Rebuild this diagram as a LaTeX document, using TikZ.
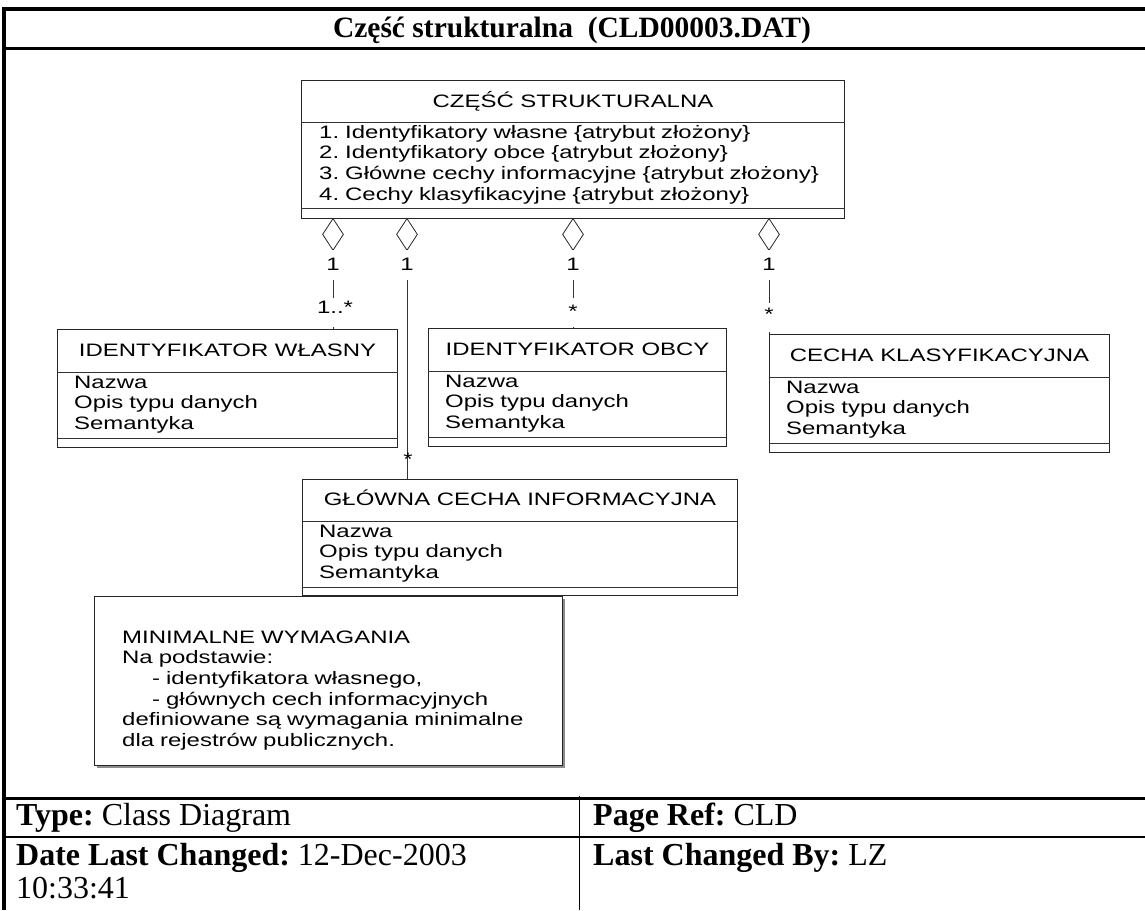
\documentclass[tikz,border=0pt]{standalone}
\usepackage{fontspec}
\setmainfont{Liberation Serif}
\newfontfamily\umlfont[FakeStretch=1.33]{Liberation Sans}
\usetikzlibrary{shapes.geometric,shadows}
\frenchspacing
\tikzset{>=latex}
\tikzset{
  uml/.style={font=\umlfont\fontsize{18pt}{20.7pt}\selectfont},
  klasa/.style={draw=black!85, line width=1pt, fill=white, anchor=north west, inner sep=0pt},
  romb/.style={diamond, draw=black!85, line width=0.8pt, fill=white, inner sep=0pt, minimum width=21pt, minimum height=32pt, anchor=north},
  linia/.style={draw=black!80, line width=0.8pt},
  krotn/.style={uml, fill=white, inner xsep=1pt, inner ysep=0pt, anchor=base},
  naglowek/.style={uml, anchor=base, inner sep=0pt},
  atrybuty/.style={uml, anchor=base west, inner sep=0pt, align=left, text width=520pt},
  stopka/.style={font=\fontsize{32pt}{33pt}\selectfont, anchor=base west, inner sep=0pt},
  ramka/.style={line width=4pt}
}

\begin{document}
\begin{tikzpicture}[x=1pt,y=-1pt]
  \useasboundingbox (0,0) rectangle (1145,910);
  % Frame
  \draw[ramka] (2,9) -- (1145,9);
  \draw[ramka] (4,9) -- (4,910);
  \draw[line width=3pt] (4,48) -- (1145,48);
  \node[font=\bfseries\fontsize{29.5pt}{34pt}\selectfont, anchor=base, inner sep=0pt] (tytul) at (572,37) {Część strukturalna~ (CLD00003.DAT)};

  % Classes
  \node[klasa, minimum width=543pt, minimum height=138pt] (cs) at (301,80) {};
  \node[naglowek] (cs-n) at ([yshift=-27pt]cs.north) {CZĘŚĆ STRUKTURALNA};
  \node[atrybuty] (cs-a) at ([xshift=18pt,yshift=-58pt]cs.north west) {1. Identyfikatory własne \{atrybut złożony\}\\2. Identyfikatory obce \{atrybut złożony\}\\3. Główne cechy informacyjne \{atrybut złożony\}\\4. Cechy klasyfikacyjne \{atrybut złożony\}};
  \draw[linia] ([yshift=-42pt]cs.north west) -- ([yshift=-42pt]cs.north east);
  \draw[linia] ([yshift=11pt]cs.south west) -- ([yshift=11pt]cs.south east);

  \node[klasa, minimum width=340pt, minimum height=118pt] (wl) at (57,329) {};
  \node[naglowek] (wl-n) at ([yshift=-27pt]wl.north) {IDENTYFIKATOR WŁASNY};
  \node[atrybuty] (wl-a) at ([xshift=17pt,yshift=-59pt]wl.north west) {Nazwa\\Opis typu danych\\Semantyka};
  \draw[linia] ([yshift=-43pt]wl.north west) -- ([yshift=-43pt]wl.north east);
  \draw[linia] ([yshift=10pt]wl.south west) -- ([yshift=10pt]wl.south east);

  \node[klasa, minimum width=298pt, minimum height=118pt] (ob) at (428,328) {};
  \node[naglowek] (ob-n) at ([yshift=-27pt]ob.north) {IDENTYFIKATOR OBCY};
  \node[atrybuty] (ob-a) at ([xshift=17pt,yshift=-59pt]ob.north west) {Nazwa\\Opis typu danych\\Semantyka};
  \draw[linia] ([yshift=-43pt]ob.north west) -- ([yshift=-43pt]ob.north east);
  \draw[linia] ([yshift=10pt]ob.south west) -- ([yshift=10pt]ob.south east);

  \node[klasa, minimum width=340pt, minimum height=118pt] (kl) at (769,334) {};
  \node[naglowek] (kl-n) at ([yshift=-27pt]kl.north) {CECHA KLASYFIKACYJNA};
  \node[atrybuty] (kl-a) at ([xshift=17pt,yshift=-59pt]kl.north west) {Nazwa\\Opis typu danych\\Semantyka};
  \draw[linia] ([yshift=-43pt]kl.north west) -- ([yshift=-43pt]kl.north east);
  \draw[linia] ([yshift=10pt]kl.south west) -- ([yshift=10pt]kl.south east);

  % Note
  \node[klasa, minimum width=468pt, minimum height=169pt, drop shadow={shadow xshift=2.5pt, shadow yshift=-2.5pt, fill=black!45, opacity=1}] (mw) at (94,596) {};
  \node[atrybuty, text width=440pt] (mw-t) at (122,643) {MINIMALNE WYMAGANIA\\Na podstawie:\\\hspace*{30pt}- identyfikatora własnego,\\\hspace*{30pt}- głównych cech informacyjnych\\definiowane są wymagania minimalne\\dla rejestrów publicznych.};

  \node[klasa, minimum width=435pt, minimum height=116pt] (gl) at (302,479) {};
  \node[naglowek] (gl-n) at ([yshift=-26pt]gl.north) {GŁÓWNA CECHA INFORMACYJNA};
  \node[atrybuty] (gl-a) at ([xshift=17pt,yshift=-58pt]gl.north west) {Nazwa\\Opis typu danych\\Semantyka};
  \draw[linia] ([yshift=-42pt]gl.north west) -- ([yshift=-42pt]gl.north east);
  \draw[linia] ([yshift=9pt]gl.south west) -- ([yshift=9pt]gl.south east);

  % Aggregations
  \node[romb] (r1) at (333,218) {};
  \node[romb] (r2) at (407,218) {};
  \node[romb] (r3) at (573,218) {};
  \node[romb] (r4) at (769,218) {};
  \draw[linia] (r1.south) -- (r1.south |- wl.north);
  \draw[linia] (r2.south) -- (r2.south |- gl.north);
  \draw[linia] (r3.south) -- (r3.south |- ob.north);
  \draw[linia] (r4.south) -- (r4.south |- kl.north);
  \node[krotn, text height=20pt, text depth=10pt] (k1) at (333,270) {1};
  \node[krotn, text height=20pt, text depth=10pt] (k2) at (407,270) {1};
  \node[krotn, text height=20pt, text depth=10pt] (k3) at (573,270) {1};
  \node[krotn, text height=20pt, text depth=10pt] (k4) at (769,270) {1};
  \node[krotn, text height=15pt, text depth=14pt] (k5) at (335,313) {1..*};
  \node[krotn, text height=19pt, text depth=10pt] (k6) at (573,317) {*};
  \node[krotn, text height=17pt, text depth=12pt] (k7) at (769,320) {*};
  \node[uml, anchor=base, inner sep=0pt] (k8) at (408,465) {*};

  % Footer
  \draw[line width=3pt] (4,798) -- (1145,798);
  \draw[line width=2.5pt] (4,837) -- (1145,837);
  \draw[line width=1pt] (579,796) -- (579,910);
  \node[stopka] (typ) at (16,825) {\textbf{Type:} Class Diagram};
  \node[stopka] (data) at (16,865) {\textbf{Date Last Changed:} 12-Dec-2003};
  \node[stopka] (czas) at (16,898) {10:33:41};
  \node[stopka] (ref) at (593,825) {\textbf{Page Ref:} CLD};
  \node[stopka] (kto) at (593,865) {\textbf{Last Changed By:} LZ};
\end{tikzpicture}
\end{document}
